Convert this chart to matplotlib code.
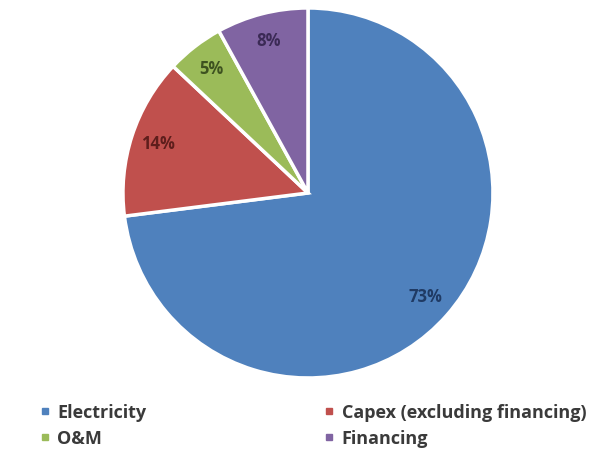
import matplotlib.pyplot as plt
import numpy as np
from matplotlib.lines import Line2D

labels = ['Electricity', 'Capex (excluding financing)', 'O&M', 'Financing']
shares = [73, 14, 5, 8]
colors = ['#4F81BD', '#C0504D', '#9BBB59', '#8064A2']
label_colors = ['#1F3A64', '#5E1E1C', '#3E5220', '#3B2A55']

plt.rcParams['font.family'] = ['Open Sans', 'DejaVu Sans']

fig = plt.figure(figsize=(6.13, 4.53), dpi=100)
ax = fig.add_axes([0.2006, 0.1656, 0.6036, 0.8168])

wedges, texts, pcts = ax.pie(shares, colors=colors, startangle=90, counterclock=False,
                             autopct='%d%%', pctdistance=0.85, radius=1.0,
                             wedgeprops=dict(edgecolor='white', linewidth=2.5))
for t, c in zip(pcts, label_colors):
    t.set_color(c)
    t.set_fontsize(12)
    t.set_fontweight('bold')
ax.set_xlim(-1, 1)
ax.set_ylim(-1, 1)
ax.set_aspect('equal')

handles = [Line2D([], [], marker='s', linestyle='none', markersize=4,
                  markerfacecolor=c, markeredgecolor=c) for c in colors]
order = [0, 2, 1, 3]
leg = fig.legend([handles[i] for i in order], [labels[i] for i in order],
                 ncol=2, loc='upper left', bbox_to_anchor=(0.045, 0.137),
                 frameon=False, handlelength=0.5, handletextpad=0.45,
                 columnspacing=9.85, labelspacing=0.45, borderpad=0.2,
                 prop=dict(size=13, weight='bold'))
for t in leg.get_texts():
    t.set_color('#3A3A3A')

fig.savefig('out.png', dpi=100)
